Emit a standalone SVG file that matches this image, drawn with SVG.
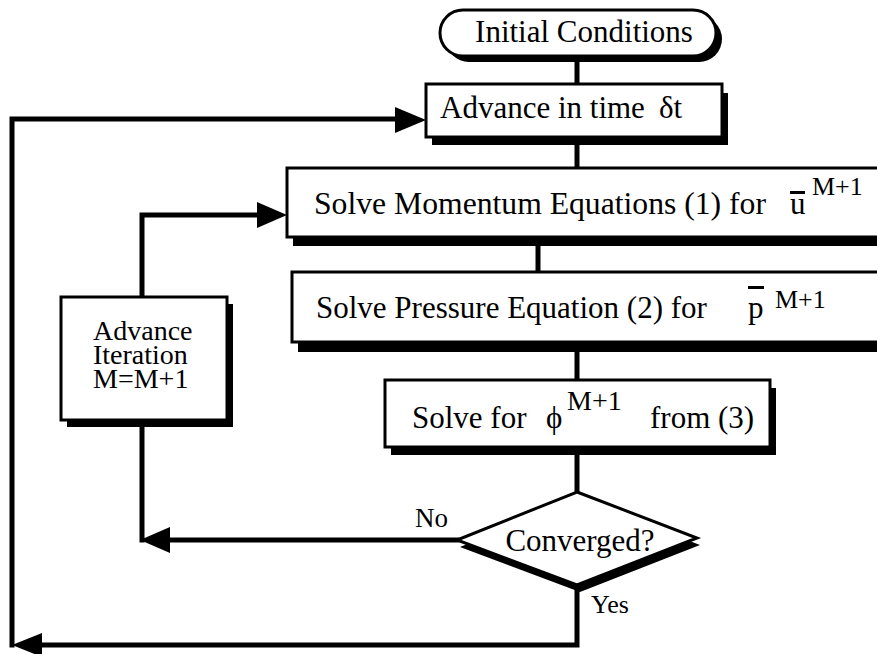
<svg xmlns="http://www.w3.org/2000/svg" width="877" height="654" viewBox="0 0 877 654" font-family="'Liberation Serif', 'Times New Roman', Times, serif">
<style>
.box{fill:#fff;stroke:#000;stroke-width:3}
.sh{fill:#000}
.ln{fill:none;stroke:#000;stroke-width:5;stroke-linejoin:miter;stroke-linecap:square}
.ah{fill:#000}
text{font-family:'Liberation Serif','Times New Roman',Times,serif;fill:#000}
.t{font-size:31px}
.s{font-size:26px}
.a{font-size:28px}
</style>
<rect width="877" height="654" fill="#fff"/>
<g id="connectors">
<path class="ln" d="M577 58 V84"/>
<path class="ln" d="M577 145 V168"/>
<path class="ln" d="M538 246 V272"/>
<path class="ln" d="M577 352 V380"/>
<path class="ln" d="M577 455 V492"/>
<path class="ln" d="M457 540 H160"/>
<path class="ln" d="M142 420 V540"/>
<path class="ln" d="M142 297 V215 H262"/>
<path class="ln" d="M577 590 V645 H40"/>
<path class="ln" d="M12 645 V119 H400"/>
<polygon class="ah" points="426,120 395,107 395,133"/>
<polygon class="ah" points="287,215 257,202 257,228"/>
<polygon class="ah" points="140,540 170,527 170,553"/>
<polygon class="ah" points="12,645 42,633 42,657"/>
</g>
<g id="initial">
<rect class="sh" x="446" y="16" width="276" height="46" rx="23"/>
<rect class="box" x="440" y="10" width="276" height="46" rx="23"/>
<text class="t" x="584" y="42" text-anchor="middle">Initial Conditions</text>
</g>
<g id="advance-time">
<rect class="sh" x="432" y="93" width="296" height="52"/>
<rect class="box" x="426" y="84" width="296" height="53"/>
<text class="t" x="440" y="118">Advance in time</text>
<text class="t" x="659" y="118">δt</text>
</g>
<g id="momentum">
<rect class="sh" x="293" y="177" width="600" height="69"/>
<rect class="box" x="287" y="168" width="600" height="69"/>
<text class="t" x="314" y="214" textLength="452" lengthAdjust="spacingAndGlyphs">Solve Momentum Equations (1) for</text>
<text class="t" x="790" y="214">u</text>
<rect x="790" y="191" width="15" height="3" fill="#000"/>
<text class="s" x="812" y="195">M+1</text>
</g>
<g id="pressure">
<rect class="sh" x="298" y="282" width="600" height="70"/>
<rect class="box" x="292" y="272" width="600" height="70"/>
<text class="t" x="316" y="318">Solve Pressure Equation (2) for</text>
<text class="t" x="748" y="318">p</text>
<rect x="748" y="286" width="16" height="3" fill="#000"/>
<text class="s" x="775" y="308">M+1</text>
</g>
<g id="phi">
<rect class="sh" x="391" y="388" width="385" height="67"/>
<rect class="box" x="385" y="380" width="385" height="67"/>
<text class="t" x="412" y="428">Solve for</text>
<text class="t" x="546" y="428">ϕ</text>
<text x="567" y="410" style="font-size:28px">M+1</text>
<text class="t" x="650" y="428">from (3)</text>
</g>
<g id="converged">
<polygon class="sh" points="580,499 700,545 580,592 460,547"/>
<polygon class="box" points="577,492 697,538 577,585 457,540"/>
<text class="t" x="580" y="551" text-anchor="middle">Converged?</text>
<text x="415" y="527" style="font-size:27px">No</text>
<text x="591" y="613" class="s">Yes</text>
</g>
<g id="advance-iteration">
<rect class="sh" x="67" y="304" width="166" height="123"/>
<rect class="box" x="61" y="297" width="166" height="123"/>
<text class="a" x="93" y="340">Advance</text>
<text class="a" x="93" y="364">Iteration</text>
<text class="a" x="93" y="388">M=M+1</text>
</g>
</svg>
